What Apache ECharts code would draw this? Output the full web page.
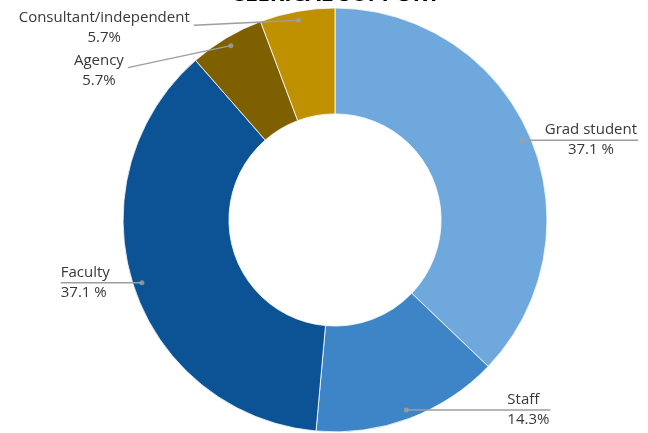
<!DOCTYPE html>
<html><head><meta charset="utf-8">
<script src="https://cdn.jsdelivr.net/npm/echarts@6/dist/echarts.min.js"></script>
<style>html,body{margin:0;padding:0;background:#fff}#c{width:648px;height:433px}</style>
</head><body><div id="c"></div>
<script>
const titleText = 'CLERICAL SUPPORT';
const categories = ['Grad student', 'Staff', 'Faculty', 'Agency', 'Consultant/independent'];
const values = [13, 5, 13, 2, 2];
const percentLabels = ['37.1 %', '14.3%', '37.1 %', '5.7%', '5.7%'];
const colors = ['#6fa8dc', '#3d85c6', '#0b5394', '#7f6000', '#bf9000'];

// layout / style settings
const center = ['51.7%', '50.8%'];
const outerR = '97.9%', innerR = '49%', carrierR = '93.8%';
const labelStyle = [
  { len2: 18, dy: 0, mode: 'underRight', align: 'center' },
  { len2: 96, dy: 0, mode: 'underRight', align: 'left' },
  { len2: 27, dy: 0, mode: 'underLeft', align: 'left' },
  { len2: 102, dy: 25, mode: 'side', align: 'center' },
  { len2: 104, dy: 8, mode: 'side', align: 'center' }
];

const total = values.reduce((a, b) => a + b, 0);
let cum = 0;
const dotData = values.map(v => { const mid = cum + v / 2; cum += v; return [1, mid]; });

const font = { fontFamily: 'Open Sans', fontSize: 15, color: '#383838', lineHeight: 20 };

const chart = echarts.init(document.getElementById('c'), null, { renderer: 'canvas' });
chart.setOption({
  animation: false,
  backgroundColor: '#fff',
  title: {
    text: titleText, left: '51%', textAlign: 'center', top: -21,
    textStyle: { fontSize: 22, fontWeight: 'bold', color: '#000', fontFamily: 'Open Sans' }
  },
  polar: { center: center, radius: [0, carrierR] },
  angleAxis: { type: 'value', min: 0, max: total, startAngle: 90, show: false },
  radiusAxis: { type: 'value', min: 0, max: 1, show: false },
  series: [
    {
      type: 'pie', center: center, radius: [innerR, outerR], startAngle: 90, clockwise: true,
      silent: true, label: { show: false }, labelLine: { show: false },
      itemStyle: { borderColor: '#ffffff', borderWidth: 0.8 },
      data: categories.map((c, i) => ({ name: c, value: values[i], itemStyle: { color: colors[i] } }))
    },
    {
      type: 'pie', center: center, radius: [0, carrierR], startAngle: 90, clockwise: true,
      silent: true, avoidLabelOverlap: false, z: 5,
      itemStyle: { color: 'rgba(0,0,0,0)' },
      label: Object.assign({
        show: true, position: 'outside', distanceToLabelLine: 5,
        formatter: p => {
          const a = labelStyle[p.dataIndex].align === 'center' ? 'c' : 'l';
          return '{n' + a + '|' + p.name + '}\n{v' + a + '|' + percentLabels[p.dataIndex] + '}';
        },
        rich: {
          nc: Object.assign({ align: 'center' }, font),
          vc: Object.assign({ align: 'center' }, font),
          nl: Object.assign({ align: 'left' }, font),
          vl: Object.assign({ align: 'left' }, font)
        }
      }, font),
      labelLine: { show: true, length: 0, length2: 15, lineStyle: { color: '#9e9e9e', width: 1.5 } },
      labelLayout: function (p) {
        const s = labelStyle[p.dataIndex];
        const p0 = p.labelLinePoints[0];
        const r = p.labelRect;
        let end;
        if (s.mode === 'underRight') end = [r.x + r.width + 1, p0[1]];
        else if (s.mode === 'underLeft') end = [r.x, p0[1]];
        else end = [r.x + r.width + 4, r.y + s.dy + r.height / 2 - 3];
        return { dy: s.dy, labelLinePoints: [p0, end] };
      },
      data: categories.map((c, i) => ({ name: c, value: values[i], labelLine: { length2: labelStyle[i].len2 } }))
    },
    {
      type: 'scatter', coordinateSystem: 'polar', silent: true, z: 6,
      symbolSize: 5, itemStyle: { color: '#a0a0a0' },
      data: dotData
    }
  ]
});
</script>
</body></html>
